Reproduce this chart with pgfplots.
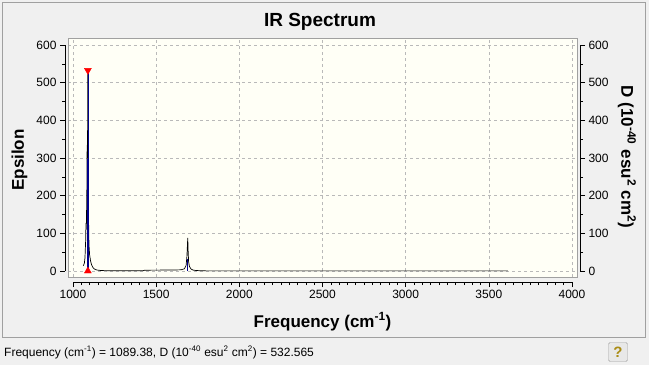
\documentclass[border=0pt]{standalone}
\usepackage{fontspec}
\setmainfont{Liberation Sans}
\usepackage{pgfplots}
\pgfplotsset{compat=1.18}
\definecolor{winbg}{RGB}{240,240,240}
\definecolor{plotbg}{RGB}{255,255,246}
\definecolor{framegray}{RGB}{160,160,160}
\definecolor{gridgray}{RGB}{185,185,185}
\definecolor{stickblue}{RGB}{0,0,140}
\definecolor{btnfill}{RGB}{232,232,232}
\definecolor{qyellow}{RGB}{170,140,20}
\begin{document}
\begin{tikzpicture}[x=1pt,y=1pt]
\useasboundingbox[fill=winbg] (0,0) rectangle (649,365);
\draw[framegray] (2.5,27.5) rectangle (645.5,362.5);
% main plot box with grid and data
\begin{axis}[at={(68pt,88pt)}, anchor=south west, scale only axis,
  width=509pt, height=239pt,
  xmin=969.9, xmax=4030, ymin=-15.9, ymax=618.6,
  axis background/.style={fill=plotbg},
  axis line style={framegray, line width=0.8pt},
  xtick={1000,1500,...,4000}, ytick={0,100,...,600},
  xticklabels={}, yticklabels={}, major tick length=0pt,
  grid=major, major grid style={gridgray, line width=0.6pt, dash pattern=on 3pt off 3pt},
  clip=true]
\addplot[black, line width=0.7pt, mark=none] coordinates {
  (1062,14) (1068,20) (1072,35) (1076,80) (1078,128) (1080,110) (1083,200)
  (1085,335) (1087,300) (1089.38,536) (1091,300) (1093,150) (1096,70)
  (1100,42) (1106,26) (1112,16) (1120,9) (1130,5) (1145,2.5) (1170,1.2)
  (1250,0.6) (1420,0.5) (1430,2.2) (1600,2.6) (1650,3.2) (1670,6) (1680,15)
  (1685,40) (1688,70) (1690,88) (1692,55) (1695,25) (1700,12) (1710,5)
  (1725,2) (1760,0.8) (1800,0.4) (3614,0.3)};
\addplot[stickblue, line width=1.1pt, ycomb, mark=none] coordinates {
  (1087.5,298) (1690,32)};
\addplot[stickblue, line width=0.6pt, ycomb, mark=none] coordinates {
  (1089.38,532.565)};
\addplot[only marks, red, mark=triangle*, mark size=4pt, mark options={rotate=180}]
  coordinates {(1089.38,532.565)};
\addplot[only marks, red, mark=triangle*, mark size=4pt]
  coordinates {(1089.38,0)};
\end{axis}
% bottom x axis
\begin{axis}[at={(73pt,83pt)}, anchor=south west, scale only axis,
  width=499pt, height=10pt, xmin=1000, xmax=4000, ymin=0, ymax=1,
  axis x line*=bottom, axis y line=none,
  xtick={1000,1500,...,4000}, minor x tick num=9,
  tick align=outside, major tick length=5pt, minor tick length=3pt,
  every tick/.style={black, line width=0.6pt},
  axis line style={black, line width=0.7pt, -},
  x tick label style={font=\fontsize{12}{14}\selectfont, /pgf/number format/1000 sep={}},
  /pgf/number format/assume math mode=true]
\end{axis}
% left y axis
\begin{axis}[at={(65pt,94pt)}, anchor=south west, scale only axis,
  width=10pt, height=226pt, xmin=0, xmax=1, ymin=0, ymax=600,
  axis y line*=left, axis x line=none,
  ytick={0,100,...,600}, minor y tick num=1,
  tick align=outside, major tick length=5pt, minor tick length=3pt,
  every tick/.style={black, line width=0.6pt},
  axis line style={black, line width=0.7pt, -},
  y tick label style={font=\fontsize{12}{14}\selectfont},
  /pgf/number format/assume math mode=true]
\end{axis}
% right y axis
\begin{axis}[at={(580pt,94pt)}, anchor=south east, scale only axis,
  width=10pt, height=226pt, xmin=0, xmax=1, ymin=0, ymax=600,
  axis y line*=right, axis x line=none,
  ytick={0,100,...,600}, minor y tick num=1,
  tick align=outside, major tick length=5pt, minor tick length=3pt,
  every tick/.style={black, line width=0.6pt},
  axis line style={black, line width=0.7pt, -},
  y tick label style={font=\fontsize{12}{14}\selectfont},
  /pgf/number format/assume math mode=true]
\end{axis}
% texts
\node[anchor=base, font=\fontsize{19}{22}\selectfont\bfseries] at (320,338) {IR Spectrum};
\node[anchor=base, font=\fontsize{17}{20}\selectfont\bfseries] at (322.5,38) {Frequency (cm\textsuperscript{-1})};
\node[rotate=90, font=\fontsize{17}{20}\selectfont\bfseries] at (19.5,205) {Epsilon};
\node[rotate=-90, font=\fontsize{17}{20}\selectfont\bfseries] at (627,208) {D (10\textsuperscript{-40} esu\textsuperscript{2} cm\textsuperscript{2})};
\node[anchor=base west, inner sep=0pt, font=\fontsize{12}{14}\selectfont] at (4,9)
  {Frequency (cm\textsuperscript{-1}) = 1089.38, D (10\textsuperscript{-40} esu\textsuperscript{2} cm\textsuperscript{2}) = 532.565};
% help button
\draw[framegray, fill=btnfill, rounded corners=1.5pt] (608.5,3.5) rectangle (627.5,22.5);
\node[font=\fontsize{15}{16}\selectfont\bfseries, text=qyellow] at (618,13) {?};
\end{tikzpicture}
\end{document}
